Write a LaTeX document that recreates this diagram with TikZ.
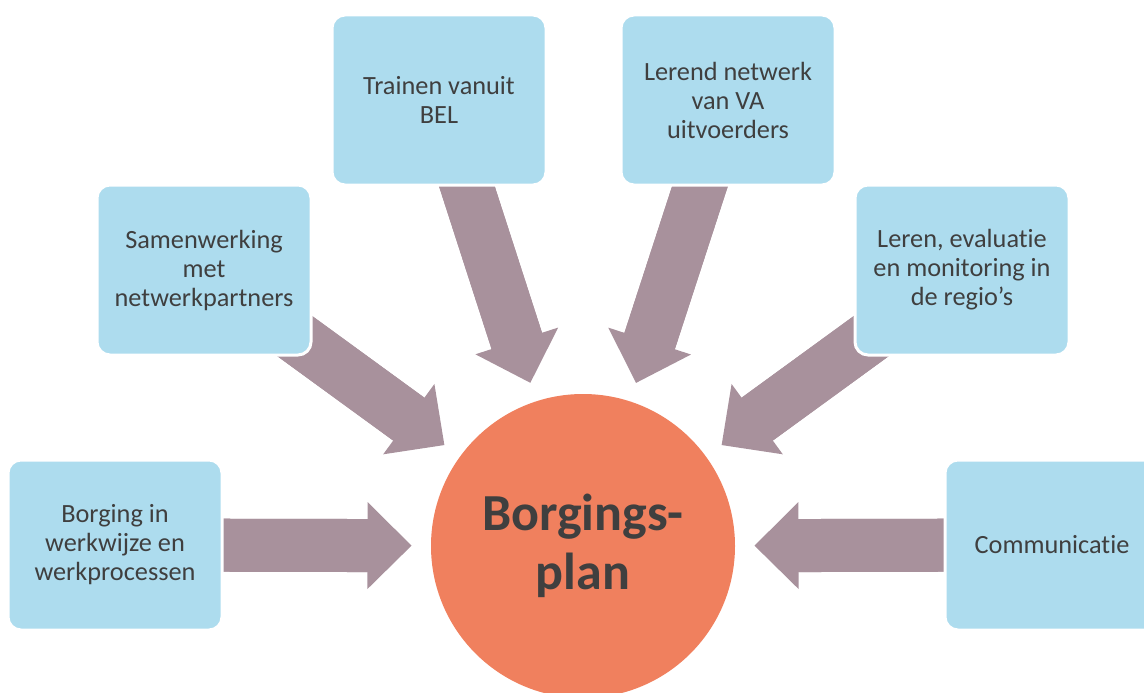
\documentclass[tikz,border=0pt]{standalone}
\usepackage{fontspec}
\setmainfont{Carlito}[RawFeature={-liga;-clig;-calt;-dlig;-rlig}]
\usetikzlibrary{arrows.meta,calc,backgrounds}
\definecolor{boxblue}{HTML}{ADDCEE}
\definecolor{arrowc}{HTML}{A8919C}
\definecolor{circc}{HTML}{F0805E}
\definecolor{txt}{HTML}{3F3F3F}
\tikzset{
  infobox/.style={draw=white, line width=3pt, fill=boxblue, rounded corners=13pt,
    minimum width=214pt, minimum height=170pt, inner sep=0pt, align=center,
    text=txt, font=\fontsize{26.3}{29}\selectfont},
  hub/.style={circle, fill=circc, minimum size=304pt, inner sep=0pt, align=center,
    text=txt, font=\fontsize{52}{59}\selectfont\bfseries},
  fatarrow/.style={draw=arrowc, line width=53pt,
    -{Triangle[width=87pt,length=44pt,line width=0pt]}},
  fatshaft/.style={draw=arrowc, line width=53pt, shorten >=30pt}
}
\begin{document}
\begin{tikzpicture}[x=1pt,y=-1pt]
\useasboundingbox (0,0) rectangle (1144,693);
\clip (0,0) rectangle (1144,693);
\node[hub] (plan) at (583,546) {Borgings-\\plan};
\node[infobox] (borging) at (115,545) {Borging in\\werkwijze en\\werkprocessen};
\node[infobox] (samen) at (204,270) {Samenwerking\\met\\netwerkpartners};
\node[infobox] (trainen) at (439,100) {Trainen vanuit\\BEL};
\node[infobox] (lerend) at (728,100) {Lerend netwerk\\van VA\\uitvoerders};
\node[infobox] (leren) at (962,270) {Leren, evaluatie\\en monitoring in\\de regio’s};
\node[infobox] (comm) at (1052,545) {Communicatie};
\begin{scope}[on background layer]
  \foreach \b in {borging,samen,trainen,lerend,leren,comm}{
    \coordinate (tip-\b) at ($(plan.center)!171.5pt!(\b.center)$);
    \draw[fatarrow] (\b.center) -- (tip-\b);
    \draw[fatshaft] (\b.center) -- (tip-\b);
  }
\end{scope}
\end{tikzpicture}
\end{document}
